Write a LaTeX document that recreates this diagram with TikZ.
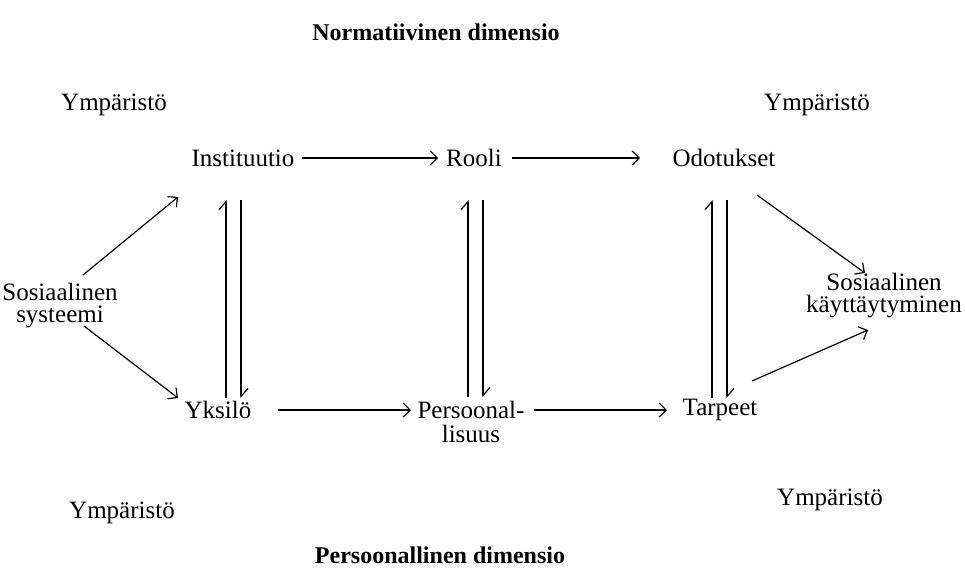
\documentclass[tikz,border=0pt]{standalone}
\usepackage{fontspec}
\setmainfont{Liberation Serif}
\usetikzlibrary{arrows.meta}
\begin{document}
\begin{tikzpicture}[x=0.5pt,y=-0.5pt,
  lbl/.style={inner sep=2pt, align=center, font=\fontsize{12.5}{11}\selectfont},
  ttl/.style={inner sep=2pt, font=\fontsize{12}{14}\selectfont\bfseries},
  arr/.style={line width=0.6pt, -{Straight Barb[length=3.5pt,width=7pt]}},
  harp/.style={line width=0.6pt, -{Straight Barb[left,length=4pt,width=7pt]}}]
\useasboundingbox (0,0) rectangle (965,584);

% titles
\node[ttl] (tn) at (436,32) {Normatiivinen dimensio};
\node[ttl] (tp) at (440,555) {Persoonallinen dimensio};

% environment labels
\node[lbl] (e1) at (114,105) {Ympäristö};
\node[lbl] (e2) at (817,105) {Ympäristö};
\node[lbl] (e3) at (122,513) {Ympäristö};
\node[lbl] (e4) at (830,500) {Ympäristö};

% main concepts
\node[lbl] (sys)   at (60,306)  {Sosiaalinen\\systeemi};
\node[lbl] (inst)  at (243,158) {Instituutio};
\node[lbl] (rooli) at (474,158) {Rooli};
\node[lbl] (odot)  at (724,158) {Odotukset};
\node[lbl] (yks)   at (218,410) {Yksilö};
\node[lbl, font=\fontsize{12.5}{12}\selectfont] (pers) at (471,422) {Persoonal-\\lisuus};
\node[lbl] (tarp)  at (720,410) {Tarpeet};
\node[lbl] (beh)   at (884,296) {Sosiaalinen\\käyttäytyminen};

% horizontal flow
\draw[arr] ([shift={(59,0)}]inst.center) -- ([shift={(-36,0)}]rooli.center);
\draw[arr] ([shift={(38,0)}]rooli.center) -- ([shift={(-84,0)}]odot.center);
\draw[arr] ([shift={(60,0)}]yks.center) -- ([shift={(-60,-12)}]pers.center);
\draw[arr] ([shift={(63,-12)}]pers.center) -- ([shift={(-53,0)}]tarp.center);

% diagonal links
\draw[arr] ([shift={(23,-31)}]sys.center) -- ([shift={(-65,39)}]inst.center);
\draw[arr] ([shift={(24,20)}]sys.center) -- ([shift={(-40,-12)}]yks.center);
\draw[arr] ([shift={(33,37)}]odot.center) -- ([shift={(-19,-23)}]beh.center);
\draw[arr] ([shift={(32,-29)}]tarp.center) -- ([shift={(-16,34)}]beh.center);

% vertical interplay between the two dimensions
\draw[harp] ([shift={(8,-12)}]yks.center) -- ([shift={(-17,42)}]inst.center);
\draw[harp] ([shift={(-2,42)}]inst.center) -- ([shift={(23,-12)}]yks.center);
\draw[harp] ([shift={(-3,-25)}]pers.center) -- ([shift={(-6,42)}]rooli.center);
\draw[harp] ([shift={(9,42)}]rooli.center) -- ([shift={(12,-25)}]pers.center);
\draw[harp] ([shift={(-8,-12)}]tarp.center) -- ([shift={(-12,42)}]odot.center);
\draw[harp] ([shift={(3,42)}]odot.center) -- ([shift={(7,-12)}]tarp.center);
\end{tikzpicture}
\end{document}
